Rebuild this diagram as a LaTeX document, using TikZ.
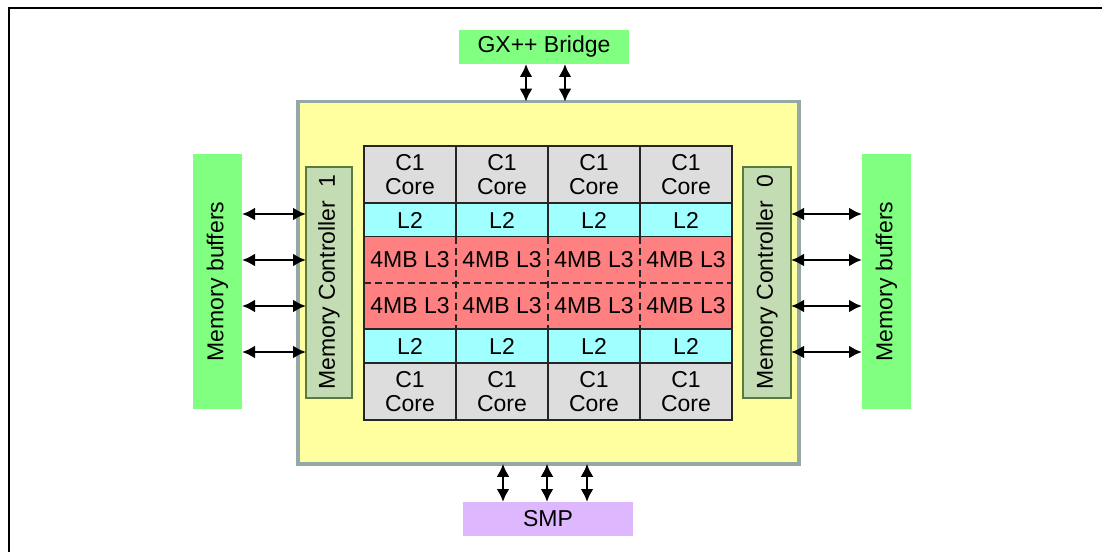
\documentclass[tikz,border=0pt]{standalone}
\usepackage{fontspec}
\setmainfont{Liberation Sans}
\usetikzlibrary{arrows.meta}
\definecolor{bufgreen}{HTML}{80FF80}
\definecolor{chipyellow}{HTML}{FFFFA0}
\definecolor{chipborder}{HTML}{94A8A8}
\definecolor{coregray}{HTML}{DDDDDD}
\definecolor{ltwocyan}{HTML}{A0FFFF}
\definecolor{lthreered}{HTML}{FF8080}
\definecolor{mcfill}{HTML}{C4DCB4}
\definecolor{mcborder}{HTML}{5A7A40}
\definecolor{smppurple}{HTML}{DDB8FF}
\begin{document}
\begin{tikzpicture}[x=1pt,y=1pt,
  txt/.style={inner sep=0pt, outer sep=0pt, align=center, font=\fontsize{23}{24}\selectfont},
  cellbox/.style={txt, draw=black!85, line width=1.8pt, minimum width=92pt},
  corebox/.style={cellbox, fill=coregray, minimum height=57pt},
  ltwobox/.style={cellbox, fill=ltwocyan, minimum height=34pt},
  lthreebox/.style={txt, fill=lthreered, minimum width=92pt, minimum height=46pt},
  bufbox/.style={txt, fill=bufgreen, rotate=90, minimum width=255pt, minimum height=49pt},
  mcbox/.style={txt, fill=mcfill, draw=mcborder, line width=2.5pt, rotate=90, minimum width=231pt},
  tipshape/.tip={Latex[length=13pt,width=13pt]},
  dar/.style={tipshape-tipshape, line width=2.6pt, black},
  dsh/.style={line width=2.4pt, dash pattern=on 7pt off 4pt, black!85}
]
\useasboundingbox (0,0) rectangle (1102,552);
\draw[line width=1.8pt] (9,0) -- (9,544) -- (1102,544);

% chip
\node[txt, fill=chipyellow, draw=chipborder, line width=3.5pt, minimum width=501pt, minimum height=362pt] (chip) at (548.5,269.25) {};

% top and bottom boxes
\node[txt, fill=bufgreen, minimum width=170pt, minimum height=34pt] (gx) at (544,505) {GX++ Bridge};
\node[txt, fill=smppurple, minimum width=170pt, minimum height=34pt] (smp) at (548,33) {SMP};

% grid
\foreach \i in {1,...,4} {
  \node[corebox] (ct\i) at ({318+92*\i},377.5) {C1\\Core};
  \node[ltwobox] (lt\i) at ({318+92*\i},332) {L2};
  \node[lthreebox] (la\i) at ({318+92*\i},292) {4MB L3};
  \node[lthreebox] (lb\i) at ({318+92*\i},246) {4MB L3};
  \node[ltwobox] (lu\i) at ({318+92*\i},206) {L2};
  \node[corebox] (cb\i) at ({318+92*\i},160.5) {C1\\Core};
}
\foreach \i in {1,2,3} {
  \draw[dsh] (la\i.north east) -- (lb\i.south east);
}
\draw[dsh] (la1.south west) -- (la4.south east);
\draw[line width=2pt, black!85] (ct1.north west) rectangle (cb4.south east);

% memory controllers and buffers
\node[mcbox, minimum height=46pt] (mc1) at (329,269.5) {Memory Controller\ \ 1};
\node[mcbox, minimum height=48pt] (mc0) at (767,269.5) {Memory Controller\ \ 0};
\node[bufbox] (mbL) at (217.5,270.5) {Memory buffers};
\node[bufbox] (mbR) at (886.5,270.5) {Memory buffers};

% side connectors
\foreach \yy in {338,292,246,200} {
  \coordinate (r) at (0,\yy);
  \draw[dar] (mbL.south |- r) -- (mc1.north |- r);
  \draw[dar] (mc0.south |- r) -- (mbR.north |- r);
}

% top connectors
\coordinate (g1) at (526,0);
\coordinate (g2) at (565,0);
\draw[dar] (gx.south -| g1) -- (chip.north -| g1);
\draw[dar] (gx.south -| g2) -- (chip.north -| g2);

% bottom connectors
\coordinate (s1) at (503,0);
\coordinate (s2) at (547,0);
\coordinate (s3) at (587,0);
\draw[dar] (chip.south -| s1) -- (smp.north -| s1);
\draw[dar] (chip.south -| s2) -- (smp.north -| s2);
\draw[dar] (chip.south -| s3) -- (smp.north -| s3);
\end{tikzpicture}
\end{document}
